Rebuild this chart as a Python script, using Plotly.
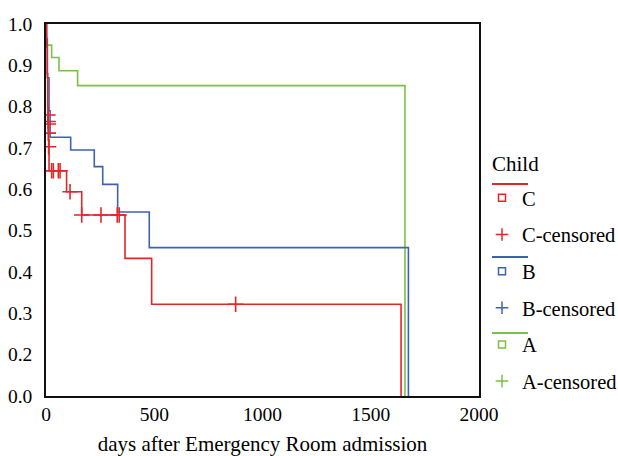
import plotly.graph_objects as go

# ---- data (days, survival probability) ----
C_days = [0, 3, 6, 8, 10, 12, 14, 95, 165, 365, 488, 1640]
C_surv = [1.0, 0.945, 0.88, 0.80, 0.76, 0.72, 0.645, 0.594, 0.538, 0.433, 0.322, 0.0]
C_cens_days = [9, 10, 11, 11, 12, 26, 34, 57, 65, 111, 165, 254, 329, 338, 876]
C_cens_surv = [0.78, 0.764, 0.758, 0.736, 0.703, 0.645, 0.645, 0.645, 0.645,
               0.594, 0.538, 0.538, 0.538, 0.538, 0.322]

B_days = [0, 2, 6, 14, 19, 114, 223, 262, 331, 477, 1674]
B_surv = [1.0, 0.965, 0.87, 0.79, 0.726, 0.695, 0.655, 0.612, 0.545, 0.459, 0.0]

A_days = [0, 2, 26, 60, 146, 1658]
A_surv = [1.0, 0.949, 0.919, 0.887, 0.851, 0.0]

x_ticks = [0, 500, 1000, 1500, 2000]
y_tickvals = [0.1, 0.2, 0.3, 0.4, 0.5, 0.6, 0.7, 0.8, 0.9, 1.0]
y_ticktext = ["0.0", "0.2", "0.3", "0.4", "0.5", "0.6", "0.7", "0.8", "0.9", "1.0"]

RED, BLUE, GREEN = "#e4262b", "#3e63ae", "#7cc145"
FONT = "Liberation Serif"

W, H = 618, 456
# plot area in window pixels (left, right, top, bottom)
PL, PR, PT, PB = 46, 479, 24, 396
PW, PH = PR - PL, PB - PT


def px(x):
    return (x - PL) / PW


def py(y):
    return (PB - y) / PH


fig = go.Figure()

# curves (green first so red sits on top)
for days, surv, col in [(A_days, A_surv, GREEN), (B_days, B_surv, BLUE), (C_days, C_surv, RED)]:
    fig.add_trace(go.Scatter(x=days, y=surv, mode="lines", line=dict(color=col, width=1.6, shape="hv"),
                             showlegend=False, hoverinfo="skip"))

# censored marks in the plot
fig.add_trace(go.Scatter(x=C_cens_days, y=C_cens_surv, mode="markers",
                         marker=dict(symbol="cross-thin", size=11, line=dict(color=RED, width=1.6)),
                         showlegend=False, hoverinfo="skip"))

# legend entries
legend_items = [
    ("C", RED), ("C-censored", RED),
    ("B", BLUE), ("B-censored", BLUE),
    ("A", GREEN), ("A-censored", GREEN),
]
for i, (name, col) in enumerate(legend_items):
    if name.endswith("censored"):
        marker = dict(symbol="cross-thin", size=9, color=col, line=dict(color=col, width=1.5))
    else:
        marker = dict(symbol="square-open", size=7, color=col, line=dict(color=col, width=1.5))
    fig.add_trace(go.Scatter(x=[None], y=[None], mode="markers", name=name, marker=marker,
                             legendgroup=f"g{i}", hoverinfo="skip"))

# colored line segments above each group in the legend
shapes = []
for ypix, col in [(184, RED), (257, BLUE), (333, GREEN)]:
    shapes.append(dict(type="line", xref="paper", yref="paper", x0=px(492), x1=px(528),
                       y0=py(ypix), y1=py(ypix), line=dict(color=col, width=2)))

axis_common = dict(showline=True, linecolor="#111", linewidth=1.5, mirror=True, showgrid=False,
                   zeroline=False, ticks="", automargin=False,
                   tickfont=dict(family=FONT, size=19.5, color="black"))

fig.update_layout(
    template="none",
    width=W, height=H,
    margin=dict(l=PL, r=W - PR, t=PT, b=H - PB, autoexpand=False),
    paper_bgcolor="white", plot_bgcolor="white",
    font=dict(family=FONT, color="black"),
    xaxis=dict(range=[0, 2000], tickvals=x_ticks,
               title=dict(text="days after Emergency Room admission", font=dict(family=FONT, size=21), standoff=12),
               **axis_common),
    yaxis=dict(range=[0.1, 1.0], tickvals=y_tickvals, ticktext=y_ticktext, ticklabelstandoff=8, **axis_common),
    legend=dict(x=px(482), xanchor="left", y=py(178), yanchor="top",
                font=dict(family=FONT, size=20.5), tracegroupgap=7, bgcolor="rgba(0,0,0,0)",
                borderwidth=0, traceorder="grouped"),
    annotations=[dict(text="Child", xref="paper", yref="paper", x=px(490), y=py(164),
                      xanchor="left", yanchor="middle", showarrow=False,
                      font=dict(family=FONT, size=21, color="black"))],
    shapes=shapes,
)

# remove the default 8px page margin so the 618x456 figure fills the window exactly
fig.write_html("out.html", config={"displayModeBar": False},
               post_script="document.body.style.margin='0';document.body.style.overflow='hidden';")
